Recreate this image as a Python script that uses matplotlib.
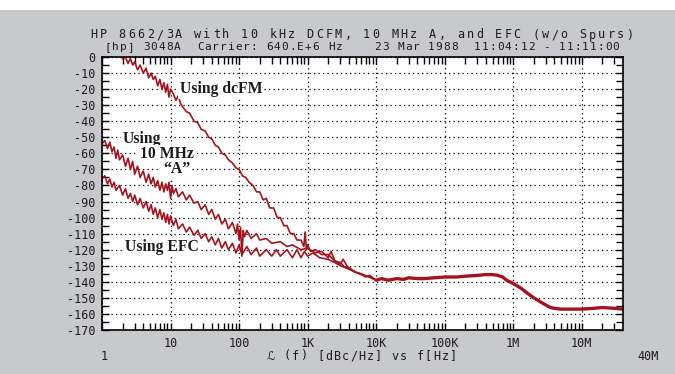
import numpy as np
import matplotlib.pyplot as plt
from matplotlib.patches import Rectangle
from matplotlib.ticker import FixedLocator, NullFormatter

plt.rcParams['axes.unicode_minus'] = False

# Phase noise traces (frequency in Hz, L(f) in dBc/Hz)
dcfm_freq = [2.0, 2.2, 2.4, 2.6, 2.8, 3.0, 3.3, 3.6, 4.0, 4.4, 4.8, 5.2, 5.6, 6.0, 6.5,
             7.0, 7.5, 8.0, 8.5, 9.0, 9.5, 10, 11, 12, 13, 14, 15, 17, 19, 22,
             25, 28, 32, 36, 40, 45, 50, 56, 63, 70, 80, 90, 100, 112, 125,
             140, 160, 180, 200, 225, 250, 280, 320, 360, 400, 450, 500, 560, 630, 700,
             800, 880, 920, 960, 1000, 1100, 1300, 1600, 2000, 2500, 3000, 3500, 4000, 5000, 6000,
             7000, 8000, 10000]
dcfm_dbc = [-1, 0, -4, -1, -5, -3, -8, -5, -10, -7, -13, -10, -14, -12, -18,
            -14, -20, -16, -22, -17, -25, -20, -23, -27, -24, -29, -31, -34, -35, -40,
            -41, -45, -46, -50, -51, -55, -56, -60, -61, -64, -66, -69, -70, -74, -75,
            -78, -80, -84, -84, -89, -88, -94, -94, -100, -100, -105, -105, -110, -110, -114,
            -114, -118, -109, -120, -117, -121, -120, -123, -123, -127, -128, -131, -131, -134, -135,
            -137, -136, -139]

a_freq = [1.0, 1.1, 1.2, 1.3, 1.4, 1.5, 1.6, 1.7, 1.8, 2.0, 2.2, 2.4, 2.6, 2.8, 3.0,
          3.3, 3.6, 4.0, 4.4, 4.8, 5.2, 5.6, 6.0, 6.5, 7.0, 7.5, 8.0, 8.5, 9.0, 9.5,
          10, 10.5, 11, 12, 13, 15, 17, 19, 22, 25, 28, 32, 36, 40, 45,
          50, 56, 63, 70, 80, 90, 95, 100, 105, 110, 115, 120, 130, 150, 180,
          200, 250, 300, 400, 500, 600, 800, 1000, 1300, 1600, 2000, 2200, 2500, 3000, 3300,
          4000, 5000, 6000, 8000, 10000]
a_dbc = [-54, -52, -57, -53, -59, -56, -63, -58, -64, -61, -68, -63, -70, -65, -73,
         -68, -75, -71, -78, -73, -79, -75, -81, -77, -83, -78, -84, -79, -83, -78,
         -88, -80, -85, -82, -87, -84, -89, -86, -91, -90, -95, -92, -98, -95, -101,
         -98, -104, -101, -107, -103, -110, -104, -114, -106, -124, -108, -112, -108, -113, -110,
         -114, -113, -116, -115, -118, -117, -120, -119, -122, -121, -125, -121, -127, -129, -126,
         -132, -134, -135, -137, -139]

efc_freq = [1.0, 1.1, 1.2, 1.3, 1.4, 1.5, 1.6, 1.8, 2.0, 2.2, 2.4, 2.6, 2.8, 3.0, 3.3,
            3.6, 4.0, 4.4, 4.8, 5.2, 5.6, 6.0, 6.5, 7.0, 7.5, 8.0, 8.5, 9.0, 9.5, 10,
            11, 12, 13, 15, 17, 19, 22, 25, 28, 32, 36, 40, 45, 50, 56,
            63, 70, 80, 90, 100, 110, 130, 150, 180, 200, 250, 300, 350, 400, 500,
            600, 700, 800, 900, 1000, 1200, 1500, 2000, 2500, 3000, 4000, 5000, 6500, 8000, 10000]
efc_dbc = [-76, -74, -79, -76, -81, -78, -83, -80, -86, -82, -88, -85, -90, -86, -92,
           -88, -94, -90, -96, -92, -98, -94, -100, -95, -101, -97, -103, -98, -104, -99,
           -105, -101, -107, -104, -109, -106, -111, -108, -113, -110, -115, -112, -117, -113, -119,
           -115, -120, -116, -122, -117, -123, -118, -123, -119, -124, -120, -124, -120, -124, -120,
           -125, -120, -125, -121, -124, -122, -125, -126, -128, -130, -132, -134, -136, -137, -139]

# all three measurements share the same floor above 10 kHz
tail_freq = [10000, 12000, 15000, 20000, 25000, 30000, 40000, 50000, 70000, 100000,
             150000, 200000, 300000, 400000, 500000, 600000, 700000, 800000, 1e6, 1.3e6,
             1.6e6, 2e6, 2.5e6, 3e6, 3.5e6, 4e6, 5e6, 7e6, 1e7, 1.5e7,
             2e7, 3e7, 4e7]
tail_dbc = [-139, -138, -139, -138, -138.5, -137.5, -138, -138, -137.5, -137,
            -137, -136.5, -136, -135.5, -135.5, -136, -137, -139, -141, -144,
            -147, -150, -152.5, -154.5, -156, -156.5, -157, -157, -157, -156.5,
            -156, -156.5, -157]

x_major = [1, 10, 100, 1e3, 1e4, 1e5, 1e6, 1e7]
x_labels = ['', '10', '100', '1K', '10K', '100K', '1M', '10M']
y_major = list(range(-170, 1, 10))

title = 'HP 8662/3A with 10 kHz DCFM, 10 MHz A, and EFC (w/o Spurs)'
subtitle = '[hp] 3048A  Carrier: 640.E+6 Hz    23 Mar 1988  11:04:12 - 11:11:00'
xlabel = 'ℒ (f) [dBc/Hz] vs f[Hz]'

W, H = 675, 374
BG = '#c8c9cd'
RED = '#a5141e'
INK = '#1e1a1a'
MONO = ['DejaVu Sans Mono', 'DejaVu Sans']


def spaced_text(fig, x_px, y_px, s, pitch, size):
    # plotter style lettering: every character on a fixed pitch
    start = x_px - (len(s) - 1) * pitch / 2
    for i, ch in enumerate(s):
        if ch == ' ':
            continue
        fig.text((start + i * pitch) / W, 1 - y_px / H, ch, ha='center', va='center',
                 fontsize=size, family=MONO, color=INK)


fig = plt.figure(figsize=(W / 100, H / 100), dpi=100, facecolor='white')
fig.patches.append(Rectangle((0, 0), 1, 1 - 10 / H, transform=fig.transFigure,
                             facecolor=BG, edgecolor='none', zorder=-10))

ax = fig.add_axes([102 / W, 1 - 330 / H, 521 / W, 273 / H])
ax.set_facecolor('white')

ax.plot(dcfm_freq, dcfm_dbc, color=RED, linewidth=1.2)
ax.plot(a_freq, a_dbc, color=RED, linewidth=1.2)
ax.plot(efc_freq, efc_dbc, color=RED, linewidth=1.2)
ax.plot(tail_freq, tail_dbc, color=RED, linewidth=2.4, solid_capstyle='round')

ax.set_xscale('log')
ax.set_xlim(1, 4e7)
ax.set_ylim(-170, 0)

ax.set_xticks(x_major)
ax.set_xticklabels(x_labels)
minors = [m * 10 ** k for k in range(8) for m in range(2, 10) if m * 10 ** k < 4e7]
ax.xaxis.set_minor_locator(FixedLocator(minors))
ax.xaxis.set_minor_formatter(NullFormatter())

ax.set_yticks(y_major)
ax.set_yticklabels([str(v) for v in y_major])
ax.yaxis.set_minor_locator(FixedLocator([v - 5 for v in y_major[1:]]))

ax.tick_params(which='both', direction='in', top=True, right=True, length=5, width=1,
               color='black', labelcolor=INK, labelsize=8.5)
ax.tick_params(axis='y', pad=5)
ax.tick_params(axis='x', pad=5)
for lab in ax.get_xticklabels() + ax.get_yticklabels():
    lab.set_family(MONO)

ax.grid(which='major', color='black', linestyle=(0, (1, 2.6)), linewidth=0.9)
for sp in ax.spines.values():
    sp.set_linewidth(1.2)

# labels on the traces
note = dict(fontsize=11.3, family='Liberation Serif', fontweight='bold', color=INK,
            va='center', ha='left', zorder=5,
            bbox=dict(facecolor='white', edgecolor='none', pad=1.0))
ax.text(13.7, -20, 'Using dcFM', **note)
ax.text(2.0, -51, 'Using', **note)
ax.text(3.56, -60.4, '10 MHz', **note)
ax.text(7.7, -69.7, '“A”', **note)
ax.text(2.15, -118.6, 'Using EFC', **note)

spaced_text(fig, 362, 35, title, 9.4, 8.5)
spaced_text(fig, 362, 47, subtitle, 7.7, 8)
spaced_text(fig, 362, 356, xlabel, 8.3, 8.5)
fig.text(104 / W, 1 - 356 / H, '1', ha='center', va='center', fontsize=8.5, family=MONO, color=INK)
fig.text(648 / W, 1 - 356 / H, '40M', ha='center', va='center', fontsize=8.5, family=MONO, color=INK)

fig.savefig('out.png', dpi=100, facecolor=fig.get_facecolor())
